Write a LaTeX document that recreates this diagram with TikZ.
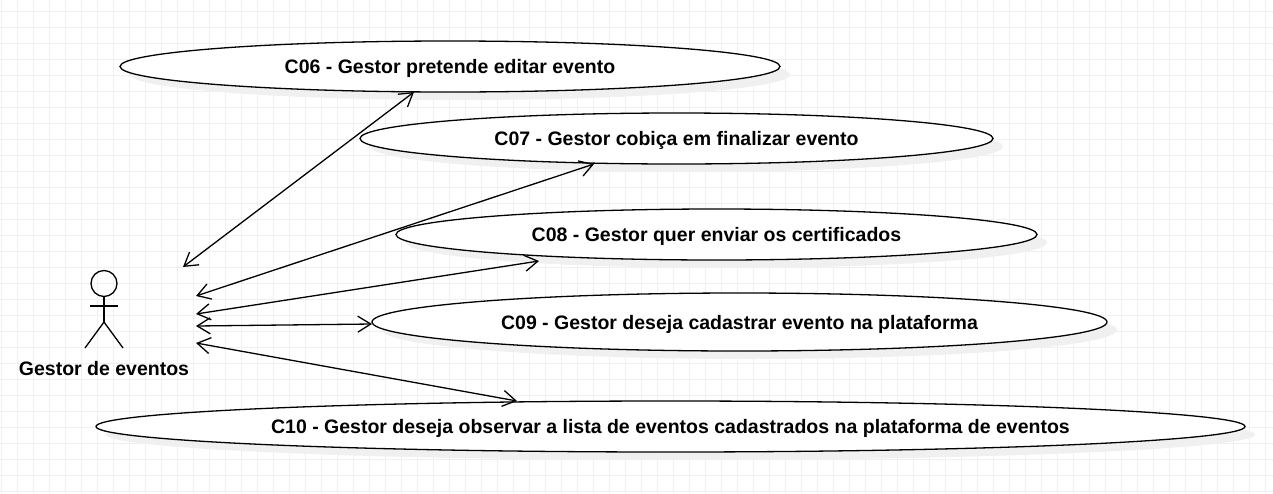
\documentclass[tikz,border=0pt]{standalone}
\usepackage{fontspec}
\setmainfont{Liberation Sans}
\usetikzlibrary{positioning, arrows.meta, shapes.geometric, shadows}

\begin{document}
\begin{tikzpicture}
        [
            x=1pt, y=-1pt,
            usecase/.style = {draw, black, ellipse, fill=white, line width=1.3pt, inner sep=0pt, outer sep=0pt,
                font=\fontsize{19.5}{24}\selectfont\bfseries, text height=18pt, text depth=4pt,
                general shadow={shadow xshift=10pt, shadow yshift=-8pt, fill=black!6, draw=none}},
            actorlabel/.style = {font=\fontsize{19.5}{24}\selectfont\bfseries},
            actorline/.style = {black, line width=1.3pt},
            gridline/.style = {draw=black!6, line width=1pt},
            link/.style = {{Straight Barb[length=13pt, width=16pt]}-{Straight Barb[length=13pt, width=16pt]}, black, line width=1.3pt}
        ]%
        \useasboundingbox (0,0) rectangle (1273,493);
        \fill[white] (0,0) rectangle (1273,493);
        \foreach \gx in {0,...,79} \draw[gridline] (1.7+16*\gx,0) -- (1.7+16*\gx,493);
        \foreach \gy in {0,...,30} \draw[gridline] (0,11.7+16*\gy) -- (1273,11.7+16*\gy);
        % use cases
        \node[usecase, minimum width=660pt, minimum height=51pt] (c06) at (450,66.5) {C06 - Gestor pretende editar evento};
        \node[usecase, minimum width=633pt, minimum height=51pt] (c07) at (676.5,138.5) {C07 - Gestor cobiça em finalizar evento};
        \node[usecase, minimum width=641pt, minimum height=51pt] (c08) at (716.5,234.5) {C08 - Gestor quer enviar os certificados};
        \node[usecase, minimum width=735pt, minimum height=58pt] (c09) at (739.5,322) {C09 - Gestor deseja cadastrar evento na plataforma};
        \node[usecase, minimum width=1149pt, minimum height=51pt] (c10) at (670.5,426.5) {C10 - Gestor deseja observar a lista de eventos cadastrados na plataforma de eventos};
        % actor
        \node[draw, black, circle, line width=1.3pt, minimum size=26pt, inner sep=0pt] (head) at (104,283.5) {};
        \coordinate (hip) at (104,322);
        \coordinate (armleft) at (90,306);
        \coordinate (armright) at (118,306);
        \coordinate (footleft) at (85,348);
        \coordinate (footright) at (123,348);
        \draw[actorline] (head.south) -- (hip);
        \draw[actorline] (armleft) -- (armright);
        \draw[actorline] (footleft) -- (hip) -- (footright);
        \node[actorlabel] (gestor) at (104,369) {Gestor de eventos};
        % free ends next to the actor
        \coordinate (from06) at (183,267);
        \coordinate (from07) at (196,296);
        \coordinate (from08) at (196,314);
        \coordinate (from09) at (196,326);
        \coordinate (from10) at (196,343);
        \draw[link] (from06) -- ([xshift=-36pt]c06.south);
        \draw[link] (from07) -- ([xshift=-82.5pt]c07.south);
        \draw[link] (from08) -- ([xshift=-177.5pt,yshift=-1pt]c08.south);
        \draw[link] (from09) -- ([yshift=-2pt]c09.west);
        \draw[link] (from10) -- ([xshift=-153.5pt]c10.north);
        \end{tikzpicture}
\end{document}
